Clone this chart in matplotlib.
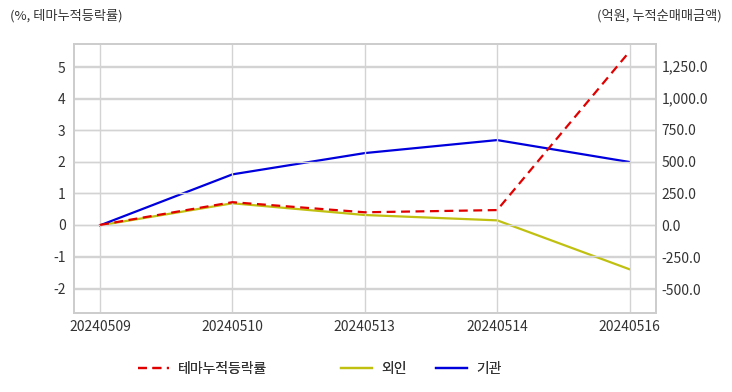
import matplotlib.pyplot as plt
from matplotlib.ticker import FuncFormatter

plt.rcParams['font.family'] = ['Noto Sans CJK KR', 'DejaVu Sans']
plt.rcParams['axes.unicode_minus'] = False

dates = ['20240509', '20240510', '20240513', '20240514', '20240516']
theme = [0.0, 0.72, 0.40, 0.47, 5.49]          # %, 테마누적등락률
foreign = [0.0, 173.0, 81.0, 39.0, -345.0]     # 억원, 외인
inst = [0.0, 400.0, 567.0, 669.0, 497.0]       # 억원, 기관

txt = '#333333'
grid = '#d3d3d3'

fig = plt.figure(figsize=(7.32, 3.92), dpi=100)
ax = fig.add_axes([74/732, 1-313/392, (656-74)/732, (313-44)/392])
ax2 = ax.twinx()

x = range(len(dates))
l1, = ax.plot(x, theme, color='#e00000', ls=(0, (4, 2.5)), lw=1.6, label='테마누적등락률')
l2, = ax2.plot(x, foreign, color='#c0c010', lw=1.6, label='외인')
l3, = ax2.plot(x, inst, color='#0000dd', lw=1.6, label='기관')

ax.set_xlim(-0.197, 4.2)
ax.set_ylim(-2.79, 5.73)
ax2.set_ylim(-688, 1423)
ax.set_yticks(range(-2, 6))
ax2.set_yticks([-500, -250, 0, 250, 500, 750, 1000, 1250])
ax2.yaxis.set_major_formatter(FuncFormatter(lambda v, p: f'{v:,.1f}'))
ax.set_xticks(list(x))
ax.set_xticklabels(dates)

ax.grid(True, color=grid, lw=1.0)
ax2.grid(True, axis='y', color=grid, lw=1.0)
ax.set_zorder(ax2.get_zorder() + 1)
ax.patch.set_visible(False)

for a in (ax, ax2):
    for s in a.spines.values():
        s.set_color('#cccccc')
        s.set_linewidth(1.2)
    a.tick_params(length=0, colors=txt, labelsize=10)
ax.tick_params(axis='y', pad=6)
ax2.tick_params(axis='y', pad=4)
ax.tick_params(axis='x', pad=5)

fig.text(10/732, 1-16/392, '(%, 테마누적등락률)', color=txt, fontsize=9.5, va='center', ha='left')
fig.text(722/732, 1-16/392, '(억원, 누적순매매금액)', color=txt, fontsize=9.5, va='center', ha='right')

# legend entries placed one by one (uneven spacing in the original)
for h, left in [(l1, 138), (l2, 341), (l3, 436)]:
    lg = fig.legend(handles=[h], loc='center left', bbox_to_anchor=(left/732, 1-369/392),
                    frameon=False, fontsize=10, handlelength=2.2, handletextpad=0.7,
                    borderpad=0, borderaxespad=0, labelcolor=txt)
    fig.add_artist(lg)

fig.savefig('out.png', dpi=100)
